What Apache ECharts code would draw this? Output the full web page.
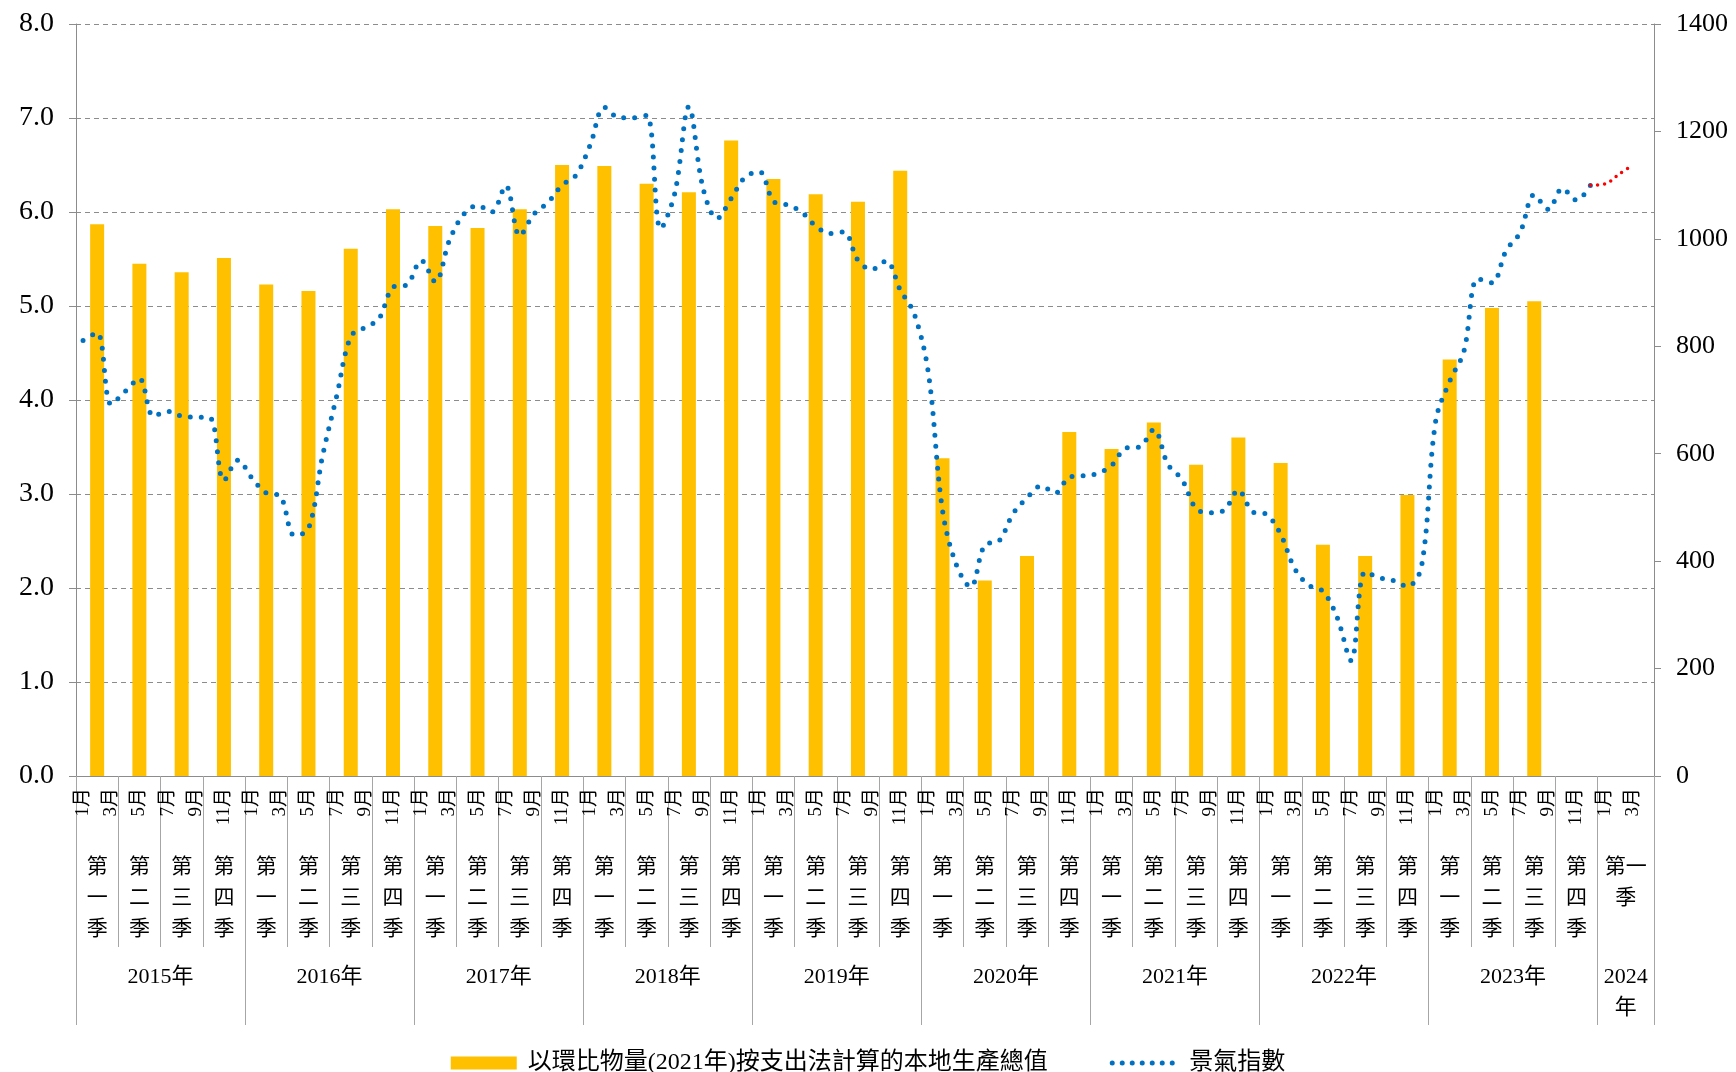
<!DOCTYPE html>
<html>
<head>
<meta charset="utf-8">
<style>
  html, body { margin: 0; padding: 0; background: #fff; }
  #chart { width: 1736px; height: 1072px; }
</style>
<script src="https://cdn.jsdelivr.net/npm/echarts@6/dist/echarts.min.js"></script>
</head>
<body>
<div id="chart"></div>
<script>
// 年份 / 季度 / 月份標籤
const yearLabels = ['2015年', '2016年', '2017年', '2018年', '2019年', '2020年', '2021年', '2022年', '2023年', '2024\n年']
const quarterLabels = ['第\n一\n季', '第\n二\n季', '第\n三\n季', '第\n四\n季']
const quarterLabel2024 = '第一\n季'
const monthTickLabels = ['1月', '', '3月', '', '5月', '', '7月', '', '9月', '', '11月', '']
const monthTickLabels2024 = ['1月', '', '3月', '']

const gdpName = '以環比物量(2021年)按支出法計算的本地生產總值'
const idxName = '景氣指數'

// 季度本地生產總值 (左軸), 2015Q1 - 2023Q3
const gdp = [
  5.87, 5.45, 5.36, 5.51,
  5.23, 5.16, 5.61, 6.03,
  5.85, 5.83, 6.03, 6.50,
  6.49, 6.30, 6.21, 6.76,
  6.35, 6.19, 6.11, 6.44,
  3.38, 2.08, 2.34, 3.66,
  3.48, 3.76, 3.31, 3.60,
  3.33, 2.46, 2.34, 2.99,
  4.43, 4.98, 5.05
]

// 景氣指數 (右軸), 每月
const idx2015 = [811, 825, 692, 716, 740, 670, 679, 670, 668, 667, 550, 588]
const idx2016 = [554, 527, 521, 448, 460, 596, 707, 818, 835, 851, 910, 915]
const idx2017 = [960, 920, 997, 1045, 1062, 1050, 1099, 1006, 1046, 1068, 1100, 1119]
const idx2018 = [1175, 1245, 1226, 1225, 1230, 1019, 1085, 1246, 1095, 1038, 1075, 1115]
const idx2019 = [1125, 1070, 1063, 1050, 1024, 1010, 1013, 960, 943, 959, 905, 860]
const idx2020 = [750, 495, 392, 352, 430, 437, 488, 518, 540, 527, 556, 559]
const idx2021 = [563, 578, 610, 613, 645, 580, 552, 498, 490, 495, 532, 492]
const idx2022 = [487, 450, 386, 355, 344, 296, 215, 380, 369, 364, 353, 390]
const idx2023 = [660, 735, 790, 926, 918, 978, 1012, 1082, 1055, 1094, 1072, 1100]
const idx2024 = [1102, 1120, 1138]

// ---- 組合 ----
const months = []
const monthLabels = []
for (let y = 2015; y <= 2023; y++) {
  monthTickLabels.forEach((l, m) => { months.push(y + '-' + (m + 1)); monthLabels.push(l) })
}
monthTickLabels2024.forEach((l, m) => { months.push('2024-' + (m + 1)); monthLabels.push(l) })
const N = months.length // 112

const blue = [].concat(idx2015, idx2016, idx2017, idx2018, idx2019, idx2020, idx2021, idx2022, idx2023)
const blueData = months.map((_, i) => (i < blue.length ? blue[i] : '-'))
const redData = months.map((_, i) => {
  if (i === blue.length - 1) return blue[i]
  const k = i - blue.length
  return k >= 0 && k < idx2024.length ? idx2024[k] : '-'
})
const barData = months.map((_, i) => {
  const q = (i - 1) / 3
  return Number.isInteger(q) && q < gdp.length ? gdp[q] : '-'
})

const quarterBounds = []
const quarterCenters = []
const quarterTexts = []
for (let q = 0; q < 36; q++) {
  quarterBounds.push(q * 3)
  quarterCenters.push(q * 3 + 1.5)
  quarterTexts.push(quarterLabels[q % 4])
}
quarterBounds.push(108, 112)
quarterCenters.push(110)
quarterTexts.push(quarterLabel2024)

const yearBounds = [0, 12, 24, 36, 48, 60, 72, 84, 96, 108, 112]
const yearCenters = [6, 18, 30, 42, 54, 66, 78, 90, 102, 110]

const FONT = "'Liberation Serif', 'Noto Sans CJK TC', serif"
const AXIS_GRAY = '#8c8c8c'
const BLUE = '#0070C0'

const chart = echarts.init(document.getElementById('chart'))

chart.setOption({
  backgroundColor: '#fff',
  animation: false,
  textStyle: { fontFamily: FONT, color: '#000' },

  grid: { left: 76, right: 82, top: 24, bottom: 296 },

  legend: {
    top: 1046,
    left: 'center',
    itemWidth: 66,
    itemHeight: 13,
    itemGap: 62,
    textStyle: { fontSize: 24, fontFamily: FONT, color: '#000', padding: [0, 0, 0, 6] },
    data: [
      { name: gdpName, icon: 'rect' },
      {
        name: idxName,
        itemStyle: { opacity: 0 },
        lineStyle: { color: BLUE, width: 5, type: [0, 10], cap: 'round' }
      }
    ]
  },

  xAxis: [
    {
      type: 'category',
      data: months,
      position: 'bottom',
      boundaryGap: true,
      axisLine: { onZero: false, lineStyle: { color: AXIS_GRAY, width: 1 } },
      axisTick: { show: false },
      axisLabel: {
        interval: 0,
        rotate: 90,
        margin: 12,
        fontSize: 19,
        fontFamily: FONT,
        color: '#000',
        formatter: (v, i) => monthLabels[i]
      },
      splitLine: { show: false }
    },
    {
      type: 'value',
      min: 0,
      max: N,
      position: 'bottom',
      axisLine: { show: false, onZero: false },
      splitLine: { show: false },
      axisTick: {
        show: true,
        customValues: quarterBounds,
        length: 171,
        lineStyle: { color: '#a6a6a6' }
      },
      axisLabel: {
        customValues: quarterCenters,
        margin: 76,
        fontSize: 21,
        lineHeight: 31,
        fontFamily: FONT,
        color: '#000',
        formatter: v => quarterTexts[quarterCenters.indexOf(v)]
      }
    },
    {
      type: 'value',
      min: 0,
      max: N,
      position: 'bottom',
      axisLine: { show: false, onZero: false },
      splitLine: { show: false },
      axisTick: {
        show: true,
        customValues: yearBounds,
        length: 249,
        lineStyle: { color: '#a6a6a6' }
      },
      axisLabel: {
        customValues: yearCenters,
        margin: 186,
        fontSize: 22,
        lineHeight: 31,
        fontFamily: FONT,
        color: '#000',
        formatter: v => yearLabels[yearCenters.indexOf(v)]
      }
    }
  ],

  yAxis: [
    {
      type: 'value',
      min: 0,
      max: 8,
      interval: 1,
      position: 'left',
      axisLine: { show: true, onZero: false, lineStyle: { color: AXIS_GRAY } },
      axisTick: { show: true, length: 7, lineStyle: { color: AXIS_GRAY } },
      axisLabel: {
        margin: 22,
        fontSize: 28,
        fontFamily: FONT,
        color: '#000',
        formatter: v => v.toFixed(1)
      },
      splitLine: { show: true, lineStyle: { color: '#8c8c8c', type: [5, 4], width: 1 } }
    },
    {
      type: 'value',
      min: 0,
      max: 1400,
      interval: 200,
      position: 'right',
      axisLine: { show: true, onZero: false, lineStyle: { color: AXIS_GRAY } },
      axisTick: { show: true, length: 7, lineStyle: { color: AXIS_GRAY } },
      axisLabel: {
        margin: 22,
        fontSize: 26,
        fontFamily: FONT,
        color: '#000',
        formatter: v => String(v)
      },
      splitLine: { show: false }
    }
  ],

  series: [
    {
      name: gdpName,
      type: 'bar',
      xAxisIndex: 0,
      yAxisIndex: 0,
      barWidth: 14,
      itemStyle: { color: '#FFC000' },
      data: barData
    },
    {
      name: idxName,
      type: 'line',
      xAxisIndex: 0,
      yAxisIndex: 1,
      symbol: 'none',
      smooth: 0.35,
      lineStyle: { color: BLUE, width: 5, type: [0, 11], cap: 'round' },
      itemStyle: { color: BLUE },
      data: blueData
    },
    {
      name: 'forecast',
      type: 'line',
      xAxisIndex: 0,
      yAxisIndex: 1,
      symbol: 'none',
      smooth: 0.35,
      lineStyle: { color: '#FF0000', width: 3.5, type: [0, 7], cap: 'round' },
      data: redData
    }
  ]
})
</script>
</body>
</html>
